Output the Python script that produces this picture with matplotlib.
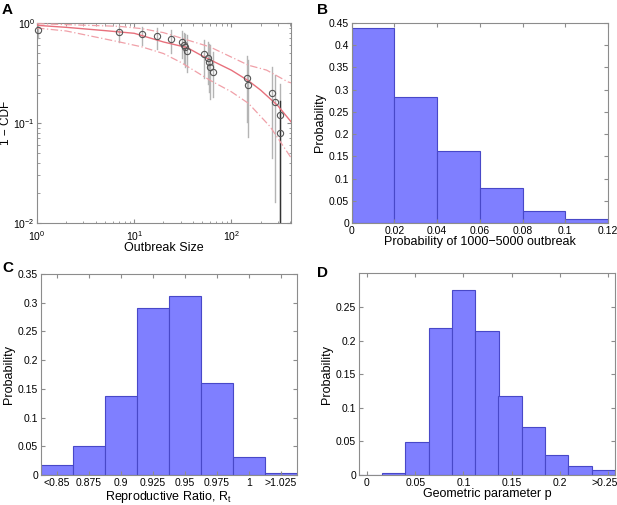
import numpy as np
import matplotlib
matplotlib.use("Agg")
import matplotlib.pyplot as plt
import matplotlib.transforms as mtransforms
from matplotlib.ticker import LogLocator, FixedLocator, NullFormatter

plt.rcParams['font.family'] = ['Liberation Sans', 'DejaVu Sans']
plt.rcParams['mathtext.fontset'] = 'custom'
plt.rcParams['mathtext.rm'] = 'Liberation Sans'
plt.rcParams['mathtext.it'] = 'Liberation Sans:italic'

# ---------------- Panel A data ----------------
outbreak_size = [1.02, 7, 12, 17, 24, 31, 32.6, 33.6, 35.3, 52, 57.5, 58.9, 59.8, 65,
                 144, 148, 264, 281, 314, 319]
cdf_obs = [0.858, 0.813, 0.771, 0.736, 0.693, 0.642, 0.604, 0.577, 0.526, 0.487,
           0.444, 0.405, 0.364, 0.327, 0.281, 0.241, 0.200, 0.162, 0.120, 0.080]
cdf_hi = [0.985, 0.926, 0.912, 0.899, 0.845, 0.832, 0.801, 0.783, 0.753, 0.672,
          0.647, 0.622, 0.599, 0.514, 0.465, 0.425, 0.359, 0.301, 0.248, 0.165]
cdf_lo = [0.714, 0.647, 0.599, 0.555, 0.502, 0.451, 0.399, 0.364, 0.325, 0.285,
          0.248, 0.205, 0.172, 0.183, 0.103, 0.073, 0.0444, 0.0161, 0.001, 0.001]

fit_x = [1, 2, 5, 10, 20, 35, 50, 100, 150, 200, 300, 410]
fit_mid = [0.948, 0.905, 0.839, 0.789, 0.646, 0.568, 0.469, 0.337, 0.264, 0.213, 0.149, 0.103]
fitU_x = [1, 7, 12, 20, 60, 150, 230, 380, 410]
fit_up = [0.985, 0.926, 0.878, 0.801, 0.577, 0.378, 0.338, 0.258, 0.252]
fitL_x = [1, 2, 7, 12, 20, 30, 60, 100, 150, 250, 410]
fit_low = [0.89, 0.832, 0.647, 0.577, 0.495, 0.405, 0.268, 0.205, 0.157, 0.092, 0.045]

# ---------------- Panel B data ----------------
b_centers = [0.01, 0.03, 0.05, 0.07, 0.09, 0.11]
b_probs = [0.438, 0.284, 0.163, 0.078, 0.028, 0.009]

# ---------------- Panel C data ----------------
c_centers = [0.85, 0.875, 0.9, 0.925, 0.95, 0.975, 1.0, 1.025]
c_labels = ['<0.85', '0.875', '0.9', '0.925', '0.95', '0.975', '1', '>1.025']
c_probs = [0.018, 0.0505, 0.137, 0.290, 0.311, 0.161, 0.031, 0.004]

# ---------------- Panel D data ----------------
d_centers = [0.0035, 0.0276, 0.0518, 0.0759, 0.1000, 0.1242, 0.1483, 0.1725,
             0.1966, 0.2207, 0.2449]
d_probs = [0.0, 0.0035, 0.0486, 0.219, 0.275, 0.214, 0.118, 0.071, 0.030, 0.0139, 0.0079]
d_ticks = [0, 0.05, 0.1, 0.15, 0.2, 0.25]
d_labels = ['0', '0.05', '0.1', '0.15', '0.2', '>0.25']

W, H = 617, 505
fig = plt.figure(figsize=(W / 100, H / 100), dpi=100)

def box(l, t, r, b):
    return fig.add_axes([l / W, 1 - b / H, (r - l) / W, (b - t) / H])

frame_col = '#8c8c8c'
bar_fc = '#7f7fff'
bar_ec = '#4848c8'

def style(ax):
    for s in ax.spines.values():
        s.set_color(frame_col)
        s.set_linewidth(0.8)
    ax.tick_params(which='both', direction='in', top=True, right=True,
                   color=frame_col, labelsize=7.5, pad=2)
    ax.tick_params(which='major', length=3)
    ax.tick_params(which='minor', length=1.8)

# Panel A
axA = box(37, 23, 291, 223)
axA.set_xscale('log')
axA.set_yscale('log')
for i in range(len(outbreak_size)):
    col = '#333333' if i == len(outbreak_size) - 1 else '#b4b4b4'
    axA.plot([outbreak_size[i], outbreak_size[i]], [cdf_lo[i], cdf_hi[i]],
             color=col, lw=1.0, zorder=2)
axA.plot(fit_x, fit_mid, color='#e8707c', lw=1.0, zorder=3)
axA.plot(fitU_x, fit_up, color='#f0a0a8', lw=0.9, ls=(0, (6, 2, 1, 2)), zorder=3)
axA.plot(fitL_x, fit_low, color='#f0a0a8', lw=0.9, ls=(0, (6, 2, 1, 2)), zorder=3)
axA.plot(outbreak_size, cdf_obs, 'o', mfc='none', mec='#555555', ms=4.5, mew=0.8,
         zorder=4, clip_on=False)
axA.set_xlim(1, 410)
axA.set_ylim(0.01, 1)
axA.xaxis.set_major_locator(FixedLocator([1, 10, 100]))
axA.yaxis.set_major_locator(FixedLocator([0.01, 0.1, 1]))
axA.xaxis.set_minor_locator(LogLocator(base=10, subs=np.arange(2, 10)))
axA.yaxis.set_minor_locator(LogLocator(base=10, subs=np.arange(2, 10)))
axA.xaxis.set_minor_formatter(NullFormatter())
axA.yaxis.set_minor_formatter(NullFormatter())
style(axA)
axA.tick_params(axis='y', pad=1.5)
axA.tick_params(axis='x', pad=4.5)
axA.set_xlabel('Outbreak Size', fontsize=9, labelpad=-1)
axA.set_ylabel('1 − CDF', fontsize=8.5)
axA.yaxis.set_label_coords(-0.1, 0.5)

# Panel B
axB = box(351.7, 23, 608, 223)
axB.bar(b_centers, b_probs, width=0.02, color=bar_fc, edgecolor=bar_ec, linewidth=0.8)
axB.set_xlim(0, 0.12)
axB.set_ylim(0, 0.45)
axB.set_xticks([0, 0.02, 0.04, 0.06, 0.08, 0.1, 0.12])
axB.set_xticklabels(['0', '0.02', '0.04', '0.06', '0.08', '0.1', '0.12'])
axB.set_yticks([0, 0.05, 0.1, 0.15, 0.2, 0.25, 0.3, 0.35, 0.4, 0.45])
axB.set_yticklabels(['0', '0.05', '0.1', '0.15', '0.2', '0.25', '0.3', '0.35', '0.4', '0.45'])
style(axB)
axB.set_xlabel('Probability of 1000−5000 outbreak', fontsize=9, labelpad=0)
axB.set_ylabel('Probability', fontsize=9, labelpad=2)

# Panel C
axC = box(40.7, 274, 296.7, 475)
axC.bar(c_centers, c_probs, width=0.025, color=bar_fc, edgecolor=bar_ec, linewidth=0.8)
axC.set_xlim(0.8375, 1.0375)
axC.set_ylim(0, 0.35)
axC.set_xticks(c_centers)
axC.set_xticklabels(c_labels)
axC.set_yticks([0, 0.05, 0.1, 0.15, 0.2, 0.25, 0.3, 0.35])
axC.set_yticklabels(['0', '0.05', '0.1', '0.15', '0.2', '0.25', '0.3', '0.35'])
style(axC)
axC.set_xlabel('Reproductive Ratio, $\\mathregular{R_t}$', fontsize=9, labelpad=1)
axC.set_ylabel('Probability', fontsize=9, labelpad=2)

# Panel D
axD = box(358.7, 273.3, 615, 475)
axD.bar(d_centers, d_probs, width=0.02414, color=bar_fc, edgecolor=bar_ec, linewidth=0.8)
axD.set_xlim(d_centers[0] - 0.01207, d_centers[-1] + 0.01207)
axD.set_ylim(0, 0.3)
axD.set_xticks(d_ticks)
axD.set_xticklabels(d_labels)
axD.set_yticks([0, 0.05, 0.1, 0.15, 0.2, 0.25])
axD.set_yticklabels(['0', '0.05', '0.1', '0.15', '0.2', '0.25'])
style(axD)
lastlab = axD.get_xticklabels()[-1]
lastlab.set_transform(lastlab.get_transform() +
                      mtransforms.ScaledTranslation(-4 / 100, 0, fig.dpi_scale_trans))
axD.set_xlabel('Geometric parameter p', fontsize=9, labelpad=0)
axD.set_ylabel('Probability', fontsize=9, labelpad=2)

# panel letters
for lab, x, y in [('A', 2, 3), ('B', 317, 3), ('C', 2, 261), ('D', 317, 266)]:
    fig.text(x / W, 1 - y / H, lab, fontsize=11, fontweight='bold', va='top', ha='left')

fig.savefig('out.png', dpi=100)
